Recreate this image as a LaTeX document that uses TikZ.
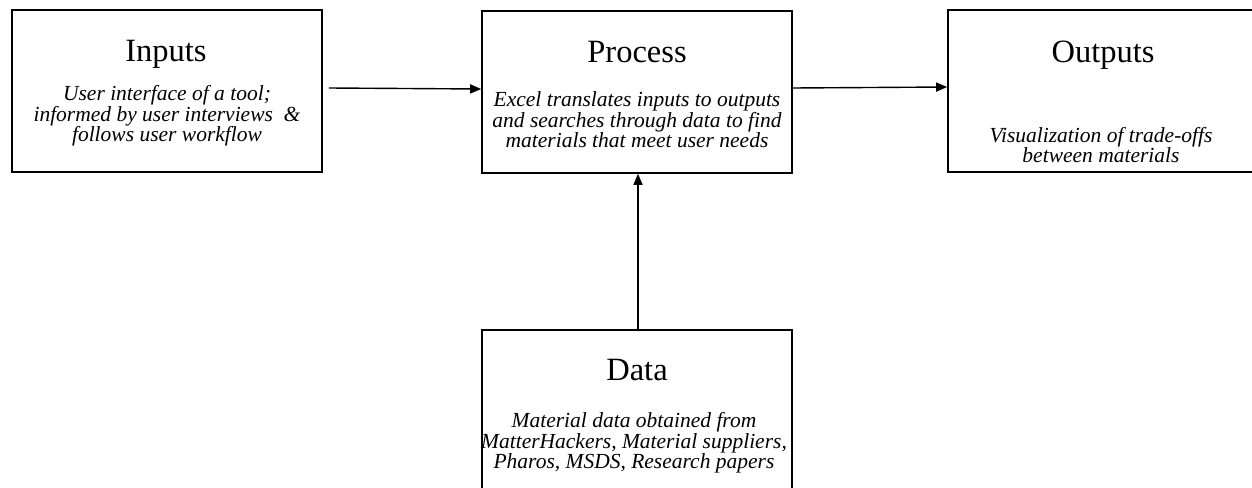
\documentclass[tikz,border=0pt]{standalone}
\usepackage{fontspec}
\setmainfont{Liberation Serif}
\usetikzlibrary{arrows.meta}
\tikzset{
  box/.style={draw=black, line width=1.6pt, minimum width=310pt, minimum height=162pt, inner sep=0pt},
  title/.style={anchor=base, inner sep=0pt, font=\fontsize{32.5}{36}\selectfont},
  body/.style={anchor=center, inner sep=0pt, align=center, font=\fontsize{21.5}{20.5}\selectfont\itshape},
  arr/.style={line width=1.4pt, -{Triangle[length=11pt,width=9pt]}}
}
\begin{document}
\begin{tikzpicture}[x=1pt,y=1pt]
\clip (0,0) rectangle (1252,-487);
\fill[white] (0,0) rectangle (1252,-487);
% boxes
\node[box] (in) at (167,-91) {};
\node[box] (proc) at (637,-92) {};
\node[box] (out) at (1103,-91) {};
\node[box] (data) at (637,-411) {};
% titles
\node[title] (tin) at (166,-62) {Inputs};
\node[title] (tproc) at (637,-63) {Process};
\node[title] (tout) at (1103,-63) {Outputs};
\node[title] (tdata) at (637,-380) {Data};
% bodies
\node[body] (bin) at (167,-116) {User interface of a tool;\\informed by user interviews \ \&\\follows user workflow};
\node[body] (bproc) at (637,-120) {Excel translates inputs to outputs\\and searches through data to find\\materials that meet user needs};
\node[body] (bout) at (1101,-145) {Visualization of trade-offs\\between materials};
\node[body] (bdata) at (634,-443) {Material data obtained from\\MatterHackers, Material suppliers,\\Pharos, MSDS, Research papers};
% connectors
\draw[arr] ([shift={(6,3)}]in.east) -- ([yshift=3]proc.west);
\draw[arr] ([yshift=4]proc.east) -- ([yshift=4]out.west);
\draw[arr] ([xshift=1]data.north) -- ([xshift=1]proc.south);
\end{tikzpicture}
\end{document}
